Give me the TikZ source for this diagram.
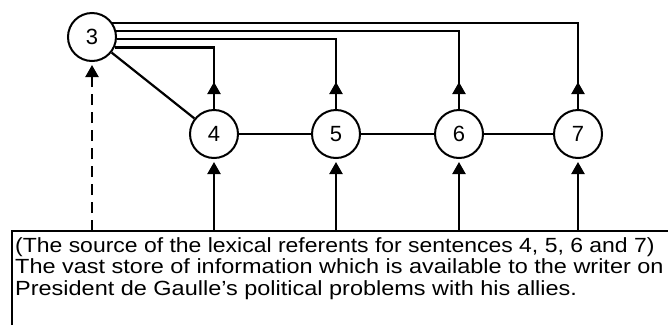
\documentclass[tikz,border=0pt]{standalone}
\usepackage{fontspec}
\setmainfont{Liberation Sans}
\usetikzlibrary{arrows.meta,calc}
\begin{document}
\begin{tikzpicture}[x=1pt,y=-1pt,
  circ/.style={draw,circle,line width=2pt,minimum size=48pt,inner sep=0pt,font=\fontsize{22}{24}\selectfont},
  ln/.style={line width=2.2pt},
  tip/.style={-{Triangle[length=12pt,width=13pt]}},
  txt/.style={anchor=base west,inner sep=0pt,font=\fontsize{20.5}{22}\selectfont}]
\useasboundingbox (0,0) rectangle (668,325);
% nodes
\node[circ] (n3) at (92,37) {3};
\node[circ] (n4) at (214,134) {4};
\node[circ] (n5) at (336,134) {5};
\node[circ] (n6) at (459,134) {6};
\node[circ] (n7) at (578,134) {7};
% box
\coordinate (bt) at (0,231);
\coordinate (bl) at (12,325);
\coordinate (br) at (668,231);
\draw[ln] (bl) -- (bl |- bt) -- (br);
\node[txt] (l1) at (15,252) {\scalebox{1.12}[1]{(The source of the lexical referents for sentences 4, 5, 6 and 7)}};
\node[txt] (l2) at (15,273.5) {\scalebox{1.145}[1]{The vast store of information which is available to the writer on}};
\node[txt] (l3) at (15,295) {\scalebox{1.145}[1]{President de Gaulle’s political problems with his allies.}};
% links between circles
\draw[ln] (n3) -- (n4);
\draw[ln] (n4) -- (n5);
\draw[ln] (n5) -- (n6);
\draw[ln] (n6) -- (n7);
% arrows from box
\foreach \n in {n4,n5,n6,n7}
  \draw[ln,tip,shorten >=3pt] (\n |- bt) -- (\n.south);
\draw[ln,tip,shorten >=3pt,dash pattern=on 11pt off 7pt] (n3 |- bt) -- (n3.south);
% arrows to 3
\foreach \n/\a in {n4/-25,n5/-5,n6/14.5,n7/35.7}{
  \draw[ln,tip] (\n.north) -- ++(0,-27);
  \draw[ln] (n3.\a) -| ($(\n.north)+(0,-20)$);
}
\end{tikzpicture}
\end{document}
